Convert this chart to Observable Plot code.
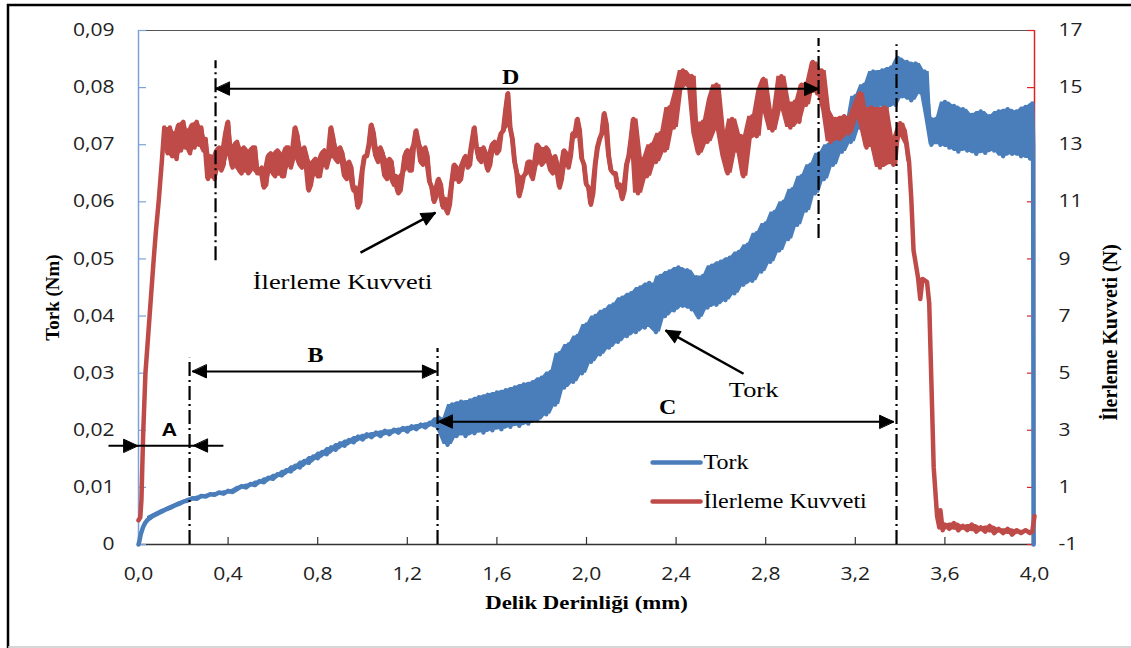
<!DOCTYPE html>
<html>
<head>
<meta charset="utf-8">
<script src="https://cdn.jsdelivr.net/npm/d3@7"></script>
<script src="https://cdn.jsdelivr.net/npm/@observablehq/plot@0.6"></script>
<style>
  body { margin: 0; background: #fff; }
  #chart svg { display: block; }
</style>
</head>
<body>
<div id="chart"></div>
<script>
// Tick values for the three axes
const depthTicks = [0, 0.4, 0.8, 1.2, 1.6, 2.0, 2.4, 2.8, 3.2, 3.6, 4.0];
const torqueTicks = [0, 0.01, 0.02, 0.03, 0.04, 0.05, 0.06, 0.07, 0.08, 0.09];
const forceTicks = [-1, 1, 3, 5, 7, 9, 11, 13, 15, 17];

// Torque (Nm) against hole depth (mm)
const tork = [
  [0.000,0.0000],[0.005,0.0008],[0.010,0.0018],[0.020,0.0030],[0.030,0.0038],[0.040,0.0043],
  [0.06,0.0049],[0.08,0.0053],[0.10,0.0057],[0.12,0.0061],[0.14,0.0064],[0.16,0.0068],
  [0.18,0.0071],[0.20,0.0075],[0.22,0.0077],[0.24,0.0081],[0.26,0.0080],[0.28,0.0085],
  [0.30,0.0084],[0.32,0.0088],[0.34,0.0087],[0.36,0.0091],[0.38,0.0089],[0.40,0.0094],
  [0.42,0.0092],[0.44,0.0097],[0.46,0.0102],[0.48,0.0100],[0.50,0.0106],[0.52,0.0104],
  [0.54,0.0111],[0.56,0.0109],[0.58,0.0117],[0.60,0.0115],[0.62,0.0123],[0.64,0.0121],
  [0.66,0.0130],[0.68,0.0128],[0.70,0.0138],[0.72,0.0135],[0.74,0.0146],[0.76,0.0143],
  [0.78,0.0154],[0.80,0.0151],[0.82,0.0162],[0.84,0.0158],[0.86,0.0170],[0.88,0.0166],
  [0.90,0.0177],[0.92,0.0173],[0.94,0.0183],[0.96,0.0179],[0.98,0.0189],[1.00,0.0184],
  [1.02,0.0193],[1.04,0.0188],[1.06,0.0196],[1.08,0.0190],[1.10,0.0199],[1.12,0.0193],
  [1.14,0.0201],[1.16,0.0196],[1.18,0.0204],[1.20,0.0198],[1.22,0.0207],[1.24,0.0202],
  [1.26,0.0210],[1.28,0.0205],[1.30,0.0213],[1.32,0.0209],[1.34,0.0222],[1.36,0.0195],
  [1.38,0.0175],[1.40,0.0245],[1.42,0.0190],[1.44,0.0250],[1.46,0.0190],[1.48,0.0252],
  [1.50,0.0195],[1.52,0.0258],[1.54,0.0196],[1.56,0.0262],[1.58,0.0200],[1.60,0.0266],
  [1.62,0.0202],[1.64,0.0270],[1.66,0.0206],[1.68,0.0275],[1.70,0.0208],[1.72,0.0280],
  [1.74,0.0212],[1.76,0.0284],[1.78,0.0218],[1.80,0.0292],[1.82,0.0228],[1.84,0.0302],
  [1.86,0.0245],[1.88,0.0335],[1.90,0.0275],[1.92,0.0350],[1.94,0.0285],[1.96,0.0365],
  [1.98,0.0300],[2.00,0.0385],[2.02,0.0320],[2.04,0.0400],[2.06,0.0333],[2.08,0.0410],
  [2.10,0.0345],[2.12,0.0420],[2.14,0.0355],[2.16,0.0432],[2.18,0.0365],[2.20,0.0440],
  [2.22,0.0372],[2.24,0.0450],[2.26,0.0380],[2.28,0.0458],[2.30,0.0390],[2.31,0.0372],
  [2.33,0.0470],[2.35,0.0400],[2.37,0.0478],[2.39,0.0410],[2.41,0.0485],[2.43,0.0418],
  [2.45,0.0480],[2.47,0.0412],[2.49,0.0468],[2.50,0.0398],[2.52,0.0470],[2.54,0.0415],
  [2.56,0.0488],[2.58,0.0420],[2.60,0.0495],[2.62,0.0428],[2.64,0.0502],[2.66,0.0440],
  [2.68,0.0512],[2.70,0.0455],[2.72,0.0525],[2.74,0.0462],[2.76,0.0545],[2.78,0.0478],
  [2.80,0.0562],[2.82,0.0495],[2.84,0.0582],[2.86,0.0515],[2.88,0.0600],[2.90,0.0535],
  [2.92,0.0622],[2.94,0.0560],[2.96,0.0645],[2.98,0.0585],[3.00,0.0665],[3.02,0.0615],
  [3.04,0.0685],[3.06,0.0640],[3.08,0.0700],[3.10,0.0665],[3.12,0.0715],[3.14,0.0688],
  [3.16,0.0740],[3.18,0.0705],[3.20,0.0785],[3.22,0.0730],[3.24,0.0805],[3.26,0.0755],
  [3.28,0.0828],[3.30,0.0768],[3.32,0.0830],[3.34,0.0765],[3.36,0.0835],[3.38,0.0770],
  [3.39,0.0852],[3.41,0.0785],[3.43,0.0845],[3.45,0.0778],[3.47,0.0842],[3.49,0.0792],
  [3.51,0.0828],[3.53,0.0748],[3.54,0.0700],[3.56,0.0745],[3.58,0.0700],[3.60,0.0775],
  [3.62,0.0695],[3.64,0.0768],[3.66,0.0688],[3.68,0.0762],[3.70,0.0690],[3.72,0.0752],
  [3.74,0.0684],[3.76,0.0758],[3.78,0.0686],[3.80,0.0750],[3.82,0.0690],[3.84,0.0758],
  [3.86,0.0680],[3.88,0.0762],[3.90,0.0684],[3.92,0.0758],[3.94,0.0680],[3.96,0.0766],
  [3.98,0.0676],[3.990,0.0772],[3.994,0.0700],[3.996,0.0000]
];

// Feed force (N) against hole depth (mm)
const kuvvet = [
  [0.000,-0.15],[0.008,-0.05],[0.013,0.55],[0.021,2.9],[0.031,5.0],[0.049,6.95],[0.068,9.0],
  [0.078,10.0],[0.090,11.0],[0.105,12.5],[0.115,13.6],
  [0.12,13.3],[0.13,12.7],[0.14,13.6],[0.15,12.6],[0.16,13.4],[0.17,12.5],[0.18,13.7],
  [0.19,12.8],[0.20,13.8],[0.21,12.9],[0.22,13.5],[0.23,12.7],[0.24,13.7],[0.25,12.9],
  [0.26,13.8],[0.27,13.0],[0.28,13.6],[0.29,12.8],[0.30,13.2],[0.31,11.8],[0.32,12.6],
  [0.33,12.0],[0.34,11.8],[0.35,12.8],[0.36,12.9],[0.37,12.1],[0.38,12.3],[0.39,13.4],
  [0.40,13.8],[0.41,12.6],[0.42,12.2],[0.43,13.0],[0.44,13.1],[0.45,12.1],[0.46,12.0],
  [0.47,12.9],[0.48,12.8],[0.49,12.0],[0.50,12.1],[0.51,12.9],[0.52,12.9],[0.53,12.0],
  [0.54,12.0],[0.55,12.2],[0.56,11.5],[0.57,11.6],[0.58,12.6],[0.59,12.7],[0.60,12.0],
  [0.61,11.9],[0.62,12.8],[0.63,12.7],[0.64,11.9],[0.65,11.9],[0.66,12.9],[0.67,12.9],
  [0.68,12.2],[0.69,12.5],[0.70,13.6],[0.71,13.3],[0.72,12.3],[0.73,12.2],[0.74,12.9],
  [0.75,12.6],[0.76,11.4],[0.77,11.6],[0.78,12.4],[0.79,12.5],[0.80,11.9],[0.81,11.9],
  [0.82,12.7],[0.83,12.8],[0.84,12.2],[0.85,12.5],[0.86,13.6],[0.87,13.2],[0.88,12.5],
  [0.89,12.4],[0.90,12.9],[0.91,12.7],[0.92,11.9],[0.93,11.8],[0.94,12.4],[0.95,12.2],
  [0.96,11.4],[0.97,11.5],[0.98,10.8],[0.99,11.0],[1.00,12.1],[1.01,12.6],[1.02,12.6],
  [1.03,13.0],[1.04,13.7],[1.05,13.4],[1.06,12.6],[1.07,12.4],[1.08,12.9],[1.09,12.7],
  [1.10,11.9],[1.11,11.8],[1.12,12.5],[1.13,12.4],[1.14,11.6],[1.15,11.9],[1.16,11.3],
  [1.17,11.4],[1.18,12.0],[1.19,12.6],[1.20,12.8],[1.21,12.1],[1.22,12.1],[1.23,13.0],
  [1.24,13.5],[1.25,13.1],[1.26,12.4],[1.27,12.3],[1.28,12.9],[1.29,12.6],[1.30,11.7],
  [1.31,11.5],[1.32,11.0],[1.33,11.2],[1.34,11.8],[1.35,11.6],[1.36,10.8],[1.37,11.1],
  [1.38,10.6],[1.39,10.9],[1.40,11.7],[1.41,12.3],[1.42,12.2],[1.43,11.7],[1.44,11.8],
  [1.45,12.4],[1.46,12.6],[1.47,12.2],[1.48,12.3],[1.49,13.1],[1.50,13.6],[1.51,12.9],
  [1.52,12.5],[1.53,12.4],[1.54,12.9],[1.55,12.7],[1.56,12.1],[1.57,12.3],[1.58,13.0],
  [1.59,13.1],[1.60,12.7],[1.61,12.8],[1.62,13.4],[1.63,13.5],[1.64,14.2],[1.65,14.8],
  [1.66,13.6],[1.67,13.2],[1.68,12.4],[1.69,12.0],[1.70,11.2],[1.71,11.5],[1.72,11.9],
  [1.73,12.0],[1.74,12.4],[1.75,12.4],[1.76,11.8],[1.77,12.2],[1.78,13.0],[1.79,12.9],
  [1.80,12.3],[1.81,12.4],[1.82,12.9],[1.83,12.8],[1.84,12.1],[1.85,12.0],[1.86,12.6],
  [1.87,12.3],[1.88,11.5],[1.89,11.8],[1.90,12.8],[1.91,12.7],[1.92,12.2],[1.93,12.6],
  [1.94,13.4],[1.95,13.3],[1.96,13.9],[1.97,13.5],[1.98,12.5],[1.99,12.3],[2.00,11.6],
  [2.01,11.5],[2.02,10.9],[2.03,11.3],[2.04,12.3],[2.05,12.9],[2.06,13.2],[2.07,13.4],
  [2.08,14.1],[2.09,13.7],[2.10,12.6],[2.11,12.1],[2.12,12.0],[2.13,12.0],[2.14,11.5],
  [2.15,11.6],[2.16,11.1],[2.17,11.4],[2.18,12.3],[2.19,12.6],[2.20,13.2],[2.21,13.9],
  [2.23,11.3],[2.25,12.5],[2.27,11.9],[2.29,13.0],[2.31,12.4],[2.33,13.4],[2.35,12.8],
  [2.37,14.3],[2.39,13.6],[2.41,14.9],[2.43,15.6],[2.45,15.1],[2.47,15.4],[2.49,13.4],
  [2.50,12.7],[2.52,13.8],[2.54,13.1],[2.56,14.6],[2.58,15.1],[2.60,13.5],[2.62,12.6],
  [2.63,12.0],[2.65,13.9],[2.67,12.8],[2.69,13.3],[2.70,11.9],[2.72,13.2],[2.74,14.0],
  [2.76,13.3],[2.78,14.9],[2.79,15.3],[2.81,14.1],[2.83,13.5],[2.85,14.2],[2.87,15.4],
  [2.89,14.3],[2.91,13.6],[2.93,14.5],[2.95,13.8],[2.96,15.1],[2.98,14.4],[3.00,15.2],
  [3.01,15.9],[3.03,14.8],[3.05,15.6],[3.07,14.2],[3.09,13.1],[3.11,13.9],[3.13,13.2],
  [3.15,14.0],[3.17,13.4],[3.19,13.9],[3.21,14.4],[3.22,14.8],[3.24,13.6],[3.25,12.9],
  [3.27,14.3],[3.29,13.4],[3.31,12.2],[3.33,14.3],[3.35,13.2],[3.37,12.3],[3.39,13.3],
  [3.40,13.75],[3.42,13.5],[3.43,13.0],[3.44,12.4],[3.45,11.1],[3.46,9.3],[3.48,8.35],
  [3.49,7.6],[3.50,8.3],[3.52,8.2],[3.53,7.45],[3.54,4.6],[3.55,1.7],[3.565,0.0],
  [3.575,-0.4],[3.58,0.2],[3.59,-0.5],[3.60,-0.3],[3.62,-0.45],[3.64,-0.25],[3.66,-0.5],
  [3.68,-0.35],[3.70,-0.5],[3.72,-0.3],[3.74,-0.55],[3.76,-0.4],[3.78,-0.55],[3.80,-0.35],
  [3.82,-0.6],[3.84,-0.45],[3.86,-0.6],[3.88,-0.45],[3.90,-0.65],[3.92,-0.5],[3.94,-0.6],
  [3.96,-0.5],[3.98,-0.6],[3.99,-0.55],[4.00,0.0]
];

// Phase boundaries (dash-dot), spans, pointers and labels, in depth/torque units
const phaseLines = [
  {depth: 0.228, y1: 0, y2: 0.0326},
  {depth: 1.335, y1: 0, y2: 0.0343},
  {depth: 0.344, y1: 0.0497, y2: 0.0847},
  {depth: 3.036, y1: 0.0536, y2: 0.0886},
  {depth: 3.384, y1: 0, y2: 0.0875}
];
const spanLines = [
  {x1: 0.344, x2: 3.036, y: 0.0798},
  {x1: 0.241, x2: 1.330, y: 0.0303},
  {x1: -0.134, x2: 0.379, y: 0.0173},
  {x1: 1.339, x2: 3.371, y: 0.0215}
];
const pointerLines = [
  {x1: 0.991, y1: 0.0511, x2: 1.326, y2: 0.0581},
  {x1: 2.701, y1: 0.0299, x2: 2.353, y2: 0.0375}
];
const arrowHeads = [
  {x: 0.344, y: 0.0798, dir: -90}, {x: 3.036, y: 0.0798, dir: 90},
  {x: 0.241, y: 0.0303, dir: -90}, {x: 1.330, y: 0.0303, dir: 90},
  {x: -0.004, y: 0.0173, dir: 90}, {x: 0.246, y: 0.0173, dir: -90},
  {x: 1.339, y: 0.0215, dir: -90}, {x: 3.371, y: 0.0215, dir: 90},
  {x: 1.326, y: 0.0581, dir: 62}, {x: 2.353, y: 0.0375, dir: -61}
];
const spanLabels = [
  {text: "D", x: 1.661, y: 0.0818},
  {text: "B", x: 0.790, y: 0.0331},
  {text: "C", x: 2.362, y: 0.0240}
];
const spanLabelA = [{text: "A", x: 0.138, y: 0.0200}];
const callouts = [
  {text: "İlerleme Kuvveti", x: 0.911, y: 0.0459},
  {text: "Tork", x: 2.746, y: 0.0271}
];

const blue = "#4a7ebb";
const red = "#be4b48";
const legendRows = [
  {name: "Tork", color: blue, y: 0.01436},
  {name: "İlerleme Kuvveti", color: red, y: 0.00753}
];

const forceMin = -1, forceMax = 17, torqueMax = 0.09;
const toTorque = f => (f - forceMin) / (forceMax - forceMin) * torqueMax;
const comma = s => s.replace(".", ",");

// noisy stretches get a filled envelope under the line; steep rises and drops stay a plain line
const torkNoisy = tork.filter(d => d[0] > 0.03 && d[0] < 3.995);
const kuvvetNoisy = [
  kuvvet.filter(d => d[0] >= 0.115 && d[0] <= 3.44),
  kuvvet.filter(d => d[0] >= 3.59 && d[0] <= 3.99)
];

const W = 1131, H = 648;
const mTop = 30, mRight = 97, mBottom = 104, mLeft = 138;
const innerW = W - mLeft - mRight, innerH = H - mTop - mBottom;

const serif = "'Liberation Serif', 'Times New Roman', serif";

// filled triangular arrowhead, tip at the anchor point
const headShape = {
  draw(context, l) {
    context.moveTo(0, 0);
    context.lineTo(-6.5, l);
    context.lineTo(6.5, l);
    context.closePath();
  }
};

// band between the running min and max of three neighbouring samples
const envelope = (data, y, fill) => Plot.areaY(data, Plot.map(
  {y1: Plot.window({k: 3, reduce: "min"}), y2: Plot.window({k: 3, reduce: "max"})},
  {x: d => d[0], y1: y, y2: y, fill, curve: "linear"}
));

const chart = Plot.plot({
  width: W,
  height: H,
  marginTop: mTop,
  marginRight: mRight,
  marginBottom: mBottom,
  marginLeft: mLeft,
  x: {domain: [0, 4]},
  y: {domain: [0, torqueMax]},
  style: {fontFamily: "'Open Sans', sans-serif", fontSize: "17.5px", color: "#222", background: "#fff"},
  marks: [
    // axes
    Plot.axisX(depthTicks, {tickSize: 0, tickPadding: 23, tickFormat: d => comma(d.toFixed(1)), label: null}),
    Plot.axisY(torqueTicks, {anchor: "left", tickSize: 0, tickPadding: 24, label: null,
      tickFormat: d => d === 0 ? "0" : comma(d.toFixed(2))}),
    Plot.axisY(forceTicks.map(toTorque), {anchor: "right", tickSize: 0, tickPadding: 24, label: null,
      tickFormat: d => String(Math.round(d / torqueMax * (forceMax - forceMin) + forceMin))}),
    Plot.ruleY([torqueMax], {stroke: "#555", strokeWidth: 1.2}),
    Plot.ruleX([0], {stroke: "#7ba3d8", strokeWidth: 1.5}),
    Plot.ruleX([4], {stroke: "#e02424", strokeWidth: 1.5}),
    Plot.ruleY([0], {stroke: "#333", strokeWidth: 1.5}),
    Plot.tickX(depthTicks, {x: d => d, insetTop: innerH - 7, stroke: "#333", strokeWidth: 1.2}),
    Plot.tickY(torqueTicks, {y: d => d, insetRight: innerW - 8, stroke: "#7ba3d8", strokeWidth: 1.2}),
    Plot.tickY(forceTicks.map(toTorque), {y: d => d, insetLeft: innerW - 7, stroke: "#e02424", strokeWidth: 1.2}),

    // series
    envelope(torkNoisy, d => d[1], blue),
    Plot.line(tork, {x: d => d[0], y: d => d[1], stroke: blue, strokeWidth: 4.5, strokeLinejoin: "round"}),
    ...kuvvetNoisy.map(part => envelope(part, d => toTorque(d[1]), red)),
    Plot.line(kuvvet, {x: d => d[0], y: d => toTorque(d[1]), stroke: red, strokeWidth: 4.5, strokeLinejoin: "round"}),

    // phase annotations
    Plot.ruleX(phaseLines, {x: "depth", y1: "y1", y2: "y2", stroke: "#000", strokeWidth: 2.2, strokeDasharray: "14,4,2,4"}),
    Plot.link(spanLines, {x1: "x1", x2: "x2", y1: "y", y2: "y", stroke: "#000", strokeWidth: 2}),
    Plot.link(pointerLines, {x1: "x1", y1: "y1", x2: "x2", y2: "y2", stroke: "#000", strokeWidth: 2.5}),
    Plot.vector(arrowHeads, {x: "x", y: "y", rotate: "dir", length: 14, anchor: "start", shape: headShape,
      fill: "#000", stroke: "#000", strokeWidth: 1}),
    Plot.text(spanLabels, {x: "x", y: "y", text: "text", fontFamily: serif, fontWeight: "bold", fontSize: 20, fill: "#000"}),
    Plot.text(spanLabelA, {x: "x", y: "y", text: "text", fontFamily: "'Liberation Sans', Arial, sans-serif", fontWeight: "bold", fontSize: 18, fill: "#000"}),
    Plot.text(callouts, {x: "x", y: "y", text: "text", fontFamily: serif, fontSize: 22, fill: "#000"}),

    // legend
    Plot.link(legendRows, {x1: 2.295, x2: 2.509, y1: "y", y2: "y", stroke: "color", strokeWidth: 4.5, strokeLinecap: "round"}),
    Plot.text(legendRows, {x: 2.522, y: "y", text: "name", textAnchor: "start", fontFamily: serif, fontSize: 20, fill: "#000"}),

    // axis titles
    Plot.text(["Tork (Nm)"], {frameAnchor: "left", textAnchor: "middle", dx: -86, dy: 10, rotate: -90,
      fontFamily: serif, fontWeight: "bold", fontSize: 19, fill: "#000"}),
    Plot.text(["İlerleme Kuvveti (N)"], {frameAnchor: "right", textAnchor: "middle", dx: 76, dy: 45, rotate: -90,
      fontFamily: serif, fontWeight: "bold", fontSize: 20, fill: "#000"}),
    Plot.text(["Delik Derinliği (mm)"], {frameAnchor: "bottom", textAnchor: "middle", dy: 64,
      fontFamily: serif, fontWeight: "bold", fontSize: 19, fill: "#000"})
  ]
});

document.getElementById("chart").append(chart);

// widen horizontal text to the chart's wide lettering
chart.querySelectorAll("text").forEach(t => {
  const tr = t.getAttribute("transform") || "";
  if (tr.includes("rotate")) return;
  const len = t.getComputedTextLength();
  if (len > 0) {
    t.setAttribute("textLength", (len * 1.2).toFixed(1));
    t.setAttribute("lengthAdjust", "spacingAndGlyphs");
  }
});

// outer chart border
const svg = d3.select(chart);
svg.append("path").attr("d", `M8,${H} V5 H${W}`).attr("fill", "none").attr("stroke", "#000").attr("stroke-width", 2.5);
svg.append("line").attr("x1", 8).attr("x2", W).attr("y1", H - 1).attr("y2", H - 1).attr("stroke", "#c8c8c8").attr("stroke-width", 1.5);
</script>
</body>
</html>
